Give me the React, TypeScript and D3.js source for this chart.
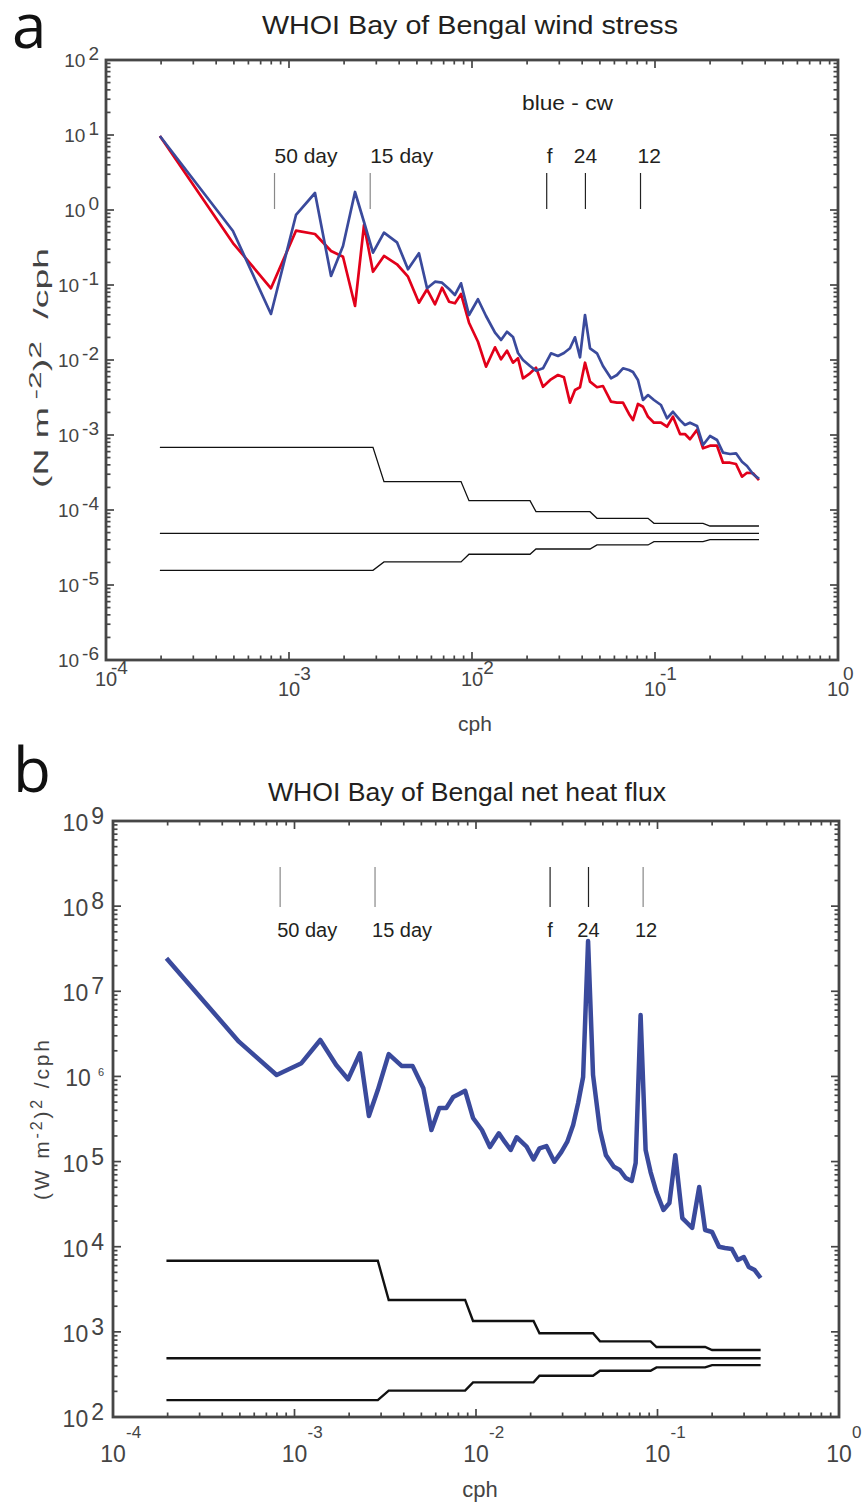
import React from "react";
import * as d3 from "d3";

// ---------- DATA ----------
// frequency grid (cph), shared by both spectra
const freq = [
  1.97e-4, 4.94e-4, 7.97e-4, 1.092e-3, 1.387e-3, 1.697e-3, 1.973e-3, 2.295e-3, 2.57e-3, 2.877e-3,
  3.304e-3, 3.891e-3, 4.47e-3, 5.13e-3, 5.68e-3, 6.28e-3, 6.86e-3, 7.49e-3, 8.07e-3, 8.71e-3,
  9.63e-3, 1.078e-2, 1.193e-2, 1.336e-2, 1.441e-2, 1.553e-2, 1.675e-2, 1.784e-2, 1.9e-2, 2.075e-2,
  2.237e-2, 2.443e-2, 2.702e-2, 2.95e-2, 3.18e-2, 3.43e-2, 3.654e-2, 3.892e-2, 4.145e-2, 4.414e-2,
  4.82e-2, 5.196e-2, 5.748e-2, 6.197e-2, 6.685e-2, 7.21e-2, 7.58e-2, 8.07e-2, 8.6e-2, 9.16e-2,
  9.87e-2, 0.1078, 0.1163, 0.1254, 0.137, 0.1458, 0.1553, 0.1697, 0.183, 0.1998,
  0.2183, 0.2353, 0.257, 0.2771, 0.2988, 0.3183, 0.3431, 0.37,
];

// wind stress spectrum, clockwise (blue)
const windCW = [
  9.7, 0.525, 0.0411, 0.858, 1.685, 0.132, 0.331, 1.738, 0.692, 0.27,
  0.498, 0.371, 0.162, 0.265, 0.0904, 0.1107, 0.1074, 0.0885, 0.0736, 0.1054,
  0.0398, 0.0645, 0.0386, 0.0231, 0.0185, 0.0238, 0.0203, 0.0124, 0.01, 0.00832,
  0.0072, 0.00775, 0.01229, 0.01131, 0.0124, 0.01432, 0.02008, 0.01086, 0.0398, 0.01432,
  0.01229, 0.00832, 0.0057, 0.00631, 0.00775, 0.00736, 0.00692, 0.00541, 0.00293, 0.00341,
  0.00293, 0.00251, 0.00167, 0.00204, 0.00158, 0.00136, 0.00146, 0.00132, 0.000736, 0.00097,
  0.000858, 0.000581, 0.000558, 0.00057, 0.000441, 0.000386, 0.000302, 0.000261,
];

// wind stress spectrum, counter-clockwise (red)
const windCCW = [
  9.7, 0.363, 0.0904, 0.53, 0.479, 0.284, 0.238, 0.0525, 0.631, 0.15,
  0.244, 0.189, 0.129, 0.0581, 0.0876, 0.0553, 0.092, 0.0599, 0.057, 0.0759,
  0.0314, 0.0175, 0.00814, 0.01477, 0.01022, 0.0133, 0.0092, 0.01054, 0.0057, 0.00665,
  0.0079, 0.0044, 0.00553, 0.00631, 0.00588, 0.0027, 0.00398, 0.00433, 0.0092, 0.00514,
  0.00433, 0.0045, 0.00278, 0.0027, 0.0027, 0.00191, 0.00158, 0.00259, 0.00238, 0.00175,
  0.00146, 0.00146, 0.00129, 0.00175, 0.00103, 0.00103, 0.000877, 0.00117, 0.000665, 0.00072,
  0.00072, 0.000427, 0.000427, 0.00041, 0.000278, 0.000314, 0.000309, 0.000251,
];

// net heat flux spectrum
const heatFlux = [
  2.44e7, 2.56e6, 1.04e6, 1.43e6, 2.68e6, 1.36e6, 9.25e5, 1.87e6, 3.43e5, 6.92e5,
  1.83e6, 1.33e6, 1.33e6, 7.25e5, 2.35e5, 4.26e5, 4.26e5, 5.73e5, 6.22e5, 6.79e5,
  3.25e5, 2.35e5, 1.48e5, 2.15e5, 1.7e5, 1.37e5, 1.93e5, 1.7e5, 1.5e5, 1.06e5,
  1.43e5, 1.52e5, 9.96e4, 1.29e5, 1.7e5, 2.69e5, 4.87e5, 9.84e5, 3.9e7, 1.04e6,
  2.35e5, 1.19e5, 8.71e4, 7.96e4, 6.41e4, 5.91e4, 9.62e4, 5.26e6, 1.37e5, 7.54e4,
  4.39e4, 2.7e4, 3.26e4, 1.19e5, 2.17e4, 1.9e4, 1.66e4, 5.02e4, 1.57e4, 1.49e4,
  1.0e4, 9.66e3, 9.4e3, 6.98e3, 7.57e3, 5.78e3, 5.32e3, 4.29e3,
];

// confidence-interval bands (start / end frequency of each averaging band)
const ciBandStart = [1.97e-4, 3.304e-3, 9.63e-3, 2.237e-2, 4.82e-2, 9.87e-2, 0.1998];
const ciBandEnd = [2.877e-3, 8.71e-3, 2.075e-2, 4.414e-2, 9.16e-2, 0.183, 0.37];
const windUpperCI = [6.86e-4, 2.39e-4, 1.33e-4, 9.5e-5, 7.75e-5, 6.64e-5, 6.12e-5];
const windLevel = 4.89e-5;
const windLowerCI = [1.57e-5, 2.03e-5, 2.57e-5, 3.02e-5, 3.42e-5, 3.79e-5, 4.02e-5];
const heatUpperCI = [6850, 2370, 1340, 962, 774, 664, 612];
const heatLevel = 489;
const heatLowerCI = [158, 204, 255, 305, 350, 383, 407];

// period markers
const markerFreqs = [1 / 1200, 1 / 360, 0.0256, 1 / 24, 1 / 12];
const markerLabels = ["50 day", "15 day", "f", "24", "12"];

// tick exponents
const xTickExps = [-4, -3, -2, -1, 0];
const windYExps = [2, 1, 0, -1, -2, -3, -4, -5, -6];
const heatYExps = [9, 8, 7, 6, 5, 4, 3, 2];

// ---------- STYLE ----------
const FONT = "'Liberation Sans', Arial, Helvetica, sans-serif";
const AXC = "#464646";
const TXT = "#231f20";
const LBL = "#444";
const BLUE = "#3a4a9c";
const RED = "#e2001a";
const aXLabelLow = [false, true, false, true, true];

type Box = { left: number; right: number; top: number; bottom: number };

function logTicks(lo: number, hi: number) {
  const majors: number[] = [];
  const minors: number[] = [];
  for (let k = lo; k <= hi; k++) {
    majors.push(Math.pow(10, k));
    if (k < hi) for (let m = 2; m <= 9; m++) minors.push(m * Math.pow(10, k));
  }
  return { majors, minors };
}

function FrameTicks({ sx, sy, box, xLo, xHi, yLo, yHi, sw }: any) {
  const xt = logTicks(xLo, xHi);
  const yt = logTicks(yLo, yHi);
  const MAJ = 8;
  const MIN = 4.5;
  const els: any[] = [];
  const add = (list: number[], len: number, kind: string) => {
    list.forEach((v, i) => {
      if (kind === "x") {
        const x = sx(v);
        els.push(<line key={`xb${len}${i}`} x1={x} x2={x} y1={box.bottom} y2={box.bottom - len} />);
        els.push(<line key={`xt${len}${i}`} x1={x} x2={x} y1={box.top} y2={box.top + len} />);
      } else {
        const y = sy(v);
        els.push(<line key={`yl${len}${i}`} x1={box.left} x2={box.left + len} y1={y} y2={y} />);
        els.push(<line key={`yr${len}${i}`} x1={box.right} x2={box.right - len} y1={y} y2={y} />);
      }
    });
  };
  add(xt.majors, MAJ, "x");
  add(xt.minors, MIN, "x");
  add(yt.majors, MAJ, "y");
  add(yt.minors, MIN, "y");
  return (
    <g stroke={AXC} strokeWidth={1.7}>
      {els}
      <rect x={box.left} y={box.top} width={box.right - box.left} height={box.bottom - box.top}
        fill="none" strokeWidth={sw} />
    </g>
  );
}

function ciPath(sx: any, sy: any, vals: number[]) {
  const pts: [number, number][] = [];
  vals.forEach((v, i) => {
    pts.push([ciBandStart[i], v]);
    pts.push([ciBandEnd[i], v]);
  });
  return d3.line<[number, number]>().x((d) => sx(d[0])).y((d) => sy(d[1]))(pts) || "";
}

export default function App() {
  const A: Box = { left: 106, right: 838, top: 60, bottom: 660 };
  const B: Box = { left: 113, right: 839, top: 821, bottom: 1417 };

  const ax = d3.scaleLog().domain([1e-4, 1]).range([A.left, A.right]);
  const ay = d3.scaleLog().domain([1e-6, 1e2]).range([A.bottom, A.top]);
  const bx = d3.scaleLog().domain([1e-4, 1]).range([B.left, B.right]);
  const by = d3.scaleLog().domain([1e2, 1e9]).range([B.bottom, B.top]);

  const lineA = d3.line<number>().x((_, i) => ax(freq[i])).y((d) => ay(d));
  const lineB = d3.line<number>().x((_, i) => bx(freq[i])).y((d) => by(d));

  const levelA = d3.line<number>().x((d) => ax(d)).y(() => ay(windLevel))([freq[0], freq[freq.length - 1]]) || "";
  const levelB = d3.line<number>().x((d) => bx(d)).y(() => by(heatLevel))([freq[0], freq[freq.length - 1]]) || "";

  return (
    <div>
      <style>{"body{margin:0;background:#fff}"}</style>
      <svg width={867} height={1502} style={{ display: "block", background: "#fff" }} fontFamily={FONT}>
        {/* ================= PANEL A ================= */}
        <text x={12} y={48} fontSize={62} fontFamily="'Open Sans', 'Noto Sans', sans-serif" fill="#111">a</text>
        <text x={470} y={34} textAnchor="middle" fontSize={25} fill={TXT} textLength={416} lengthAdjust="spacingAndGlyphs">
          WHOI Bay of Bengal wind stress
        </text>

        {/* CI lines */}
        <g fill="none" stroke="#111" strokeWidth={1.3}>
          <path d={ciPath(ax, ay, windUpperCI)} />
          <path d={levelA} />
          <path d={ciPath(ax, ay, windLowerCI)} />
        </g>

        {/* spectra */}
        <path d={lineA(windCCW) || ""} fill="none" stroke={RED} strokeWidth={2.7} strokeLinejoin="round" />
        <path d={lineA(windCW) || ""} fill="none" stroke={BLUE} strokeWidth={2.7} strokeLinejoin="round" />

        {/* markers */}
        {markerFreqs.map((f, i) => (
          <line key={`ma${i}`} x1={ax(f)} x2={ax(f)} y1={173} y2={209}
            stroke={i < 2 ? "#888" : "#222"} strokeWidth={1.2} />
        ))}
        {markerLabels.map((s, i) => (
          <text key={`mla${i}`} x={ax(markerFreqs[i]) + (i === 4 ? -3 : 0)} y={163}
            textAnchor={i === 3 ? "middle" : "start"} fontSize={21} fill={TXT}>{s}</text>
        ))}
        <text x={522} y={110} fontSize={20} fill={TXT} textLength={91} lengthAdjust="spacingAndGlyphs">blue - cw</text>

        <FrameTicks sx={ax} sy={ay} box={A} xLo={-4} xHi={0} yLo={-6} yHi={2} sw={2.8} />

        {/* y tick labels */}
        {windYExps.map((e) => (
          <text key={`ya${e}`} x={A.left - 7} y={ay(Math.pow(10, e)) + 7} textAnchor="end" fontSize={19} fill={LBL}>
            <tspan>10</tspan>
            <tspan dx={3} dy={-7}>{String(e)}</tspan>
          </text>
        ))}
        {/* x tick labels */}
        {xTickExps.map((e, i) => {
          const x = ax(Math.pow(10, e));
          const low = aXLabelLow[i];
          return (
            <g key={`xa${e}`} fill={LBL}>
              <text x={x} y={low ? 696 : 686} textAnchor="middle" fontSize={20}>10</text>
              <text x={x + 5} y={low ? 680 : 674} fontSize={19}>{String(e)}</text>
            </g>
          );
        })}
        <text x={475} y={731} textAnchor="middle" fontSize={21} fill={LBL}>cph</text>
        <text transform="translate(48,368) rotate(-90)" textAnchor="middle" fontSize={20} fill={LBL}
          textLength={240} lengthAdjust="spacingAndGlyphs">
          (N m<tspan dx={4} dy={-7} fontSize={17}>-2</tspan><tspan dy={7}>)</tspan><tspan dy={-7} fontSize={17}>2</tspan><tspan dx={12} dy={7}>/cph</tspan>
        </text>

        {/* ================= PANEL B ================= */}
        <text x={13} y={792} fontSize={62} fontFamily="'Open Sans', 'Noto Sans', sans-serif" fill="#111">b</text>
        <text x={467} y={801} textAnchor="middle" fontSize={25} fill={TXT} textLength={398} lengthAdjust="spacingAndGlyphs">
          WHOI Bay of Bengal net heat flux
        </text>

        <g fill="none" stroke="#111" strokeWidth={2.4}>
          <path d={ciPath(bx, by, heatUpperCI)} />
          <path d={levelB} />
          <path d={ciPath(bx, by, heatLowerCI)} />
        </g>

        <path d={lineB(heatFlux) || ""} fill="none" stroke={BLUE} strokeWidth={4.5} strokeLinejoin="round" />

        {markerFreqs.map((f, i) => (
          <line key={`mb${i}`} x1={bx(f)} x2={bx(f)} y1={867} y2={907}
            stroke={i < 2 || i === 4 ? "#888" : "#222"} strokeWidth={1.2} />
        ))}
        {markerLabels.map((s, i) => (
          <text key={`mlb${i}`} x={bx(markerFreqs[i]) + (i < 2 ? -3 : i === 4 ? 3 : 0)} y={937}
            textAnchor={i < 2 ? "start" : "middle"} fontSize={20} fill={TXT}>{s}</text>
        ))}

        <FrameTicks sx={bx} sy={by} box={B} xLo={-4} xHi={0} yLo={2} yHi={9} sw={2.8} />

        {heatYExps.map((e) => (
          <text key={`yb${e}`} x={B.left - 9} y={by(Math.pow(10, e)) + 10} textAnchor="end" fontSize={23} fill={LBL}>
            <tspan>10</tspan>
            {e === 6 ? (
              <tspan dx={7} dy={-10} fontSize={11}>{String(e)}</tspan>
            ) : (
              <tspan dx={3} dy={-7}>{String(e)}</tspan>
            )}
          </text>
        ))}
        {xTickExps.map((e) => {
          const x = bx(Math.pow(10, e));
          return (
            <g key={`xb${e}`} fill={LBL}>
              <text x={x} y={1462} textAnchor="middle" fontSize={23}>10</text>
              <text x={x + 13} y={1438} fontSize={17}>{String(e)}</text>
            </g>
          );
        })}
        <text x={480} y={1497} textAnchor="middle" fontSize={22} fill={LBL}>cph</text>
        <text transform="translate(49,1120) rotate(-90)" textAnchor="middle" fontSize={21} fill={LBL}
          textLength={160} lengthAdjust="spacing">
          (W m<tspan dy={-7} fontSize={16}>-2</tspan><tspan dy={7}>)</tspan><tspan dy={-7} fontSize={16}>2</tspan><tspan dy={7}> /cph</tspan>
        </text>
      </svg>
    </div>
  );
}
